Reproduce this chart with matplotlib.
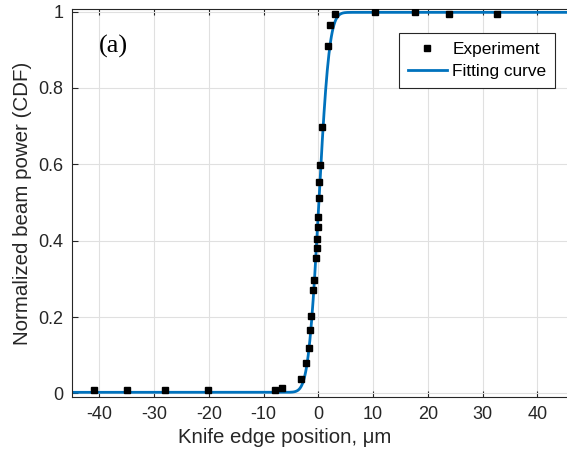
import math

import matplotlib
matplotlib.use("Agg")
import matplotlib.pyplot as plt
import numpy as np

# Experimental knife-edge data (position in um, normalized power)
exp_x = [-41.0, -35.0, -28.1, -20.1, -8.0, -6.6, -3.2, -2.25, -1.76, -1.46,
         -1.28, -0.97, -0.85, -0.43, -0.25, -0.3, -0.06, -0.12, 0.18, 0.18,
         0.36, 0.67, 1.83, 2.2, 3.1, 10.4, 17.7, 23.8, 32.6]
exp_y = [0.008, 0.008, 0.008, 0.008, 0.010, 0.015, 0.039, 0.079, 0.120, 0.165,
         0.204, 0.271, 0.297, 0.356, 0.382, 0.405, 0.436, 0.462, 0.513, 0.554,
         0.598, 0.698, 0.909, 0.965, 0.993, 0.998, 0.998, 0.993, 0.993]

# Fit parameters of the Gaussian CDF
fit_x0 = 0.1
fit_sigma = 1.5
fit_base = 0.003
fit_top = 0.998

xticks = [-40, -30, -20, -10, 0, 10, 20, 30, 40]
yticks = [0, 0.2, 0.4, 0.6, 0.8, 1.0]
ytick_labels = ["0", "0.2", "0.4", "0.6", "0.8", "1"]

plt.rcParams['font.family'] = ['Liberation Sans', 'DejaVu Sans']
plt.rcParams['axes.unicode_minus'] = False

fig = plt.figure(figsize=(5.67, 4.57), dpi=100)
ax = fig.add_axes([72 / 567, 1 - 397.3 / 457, 497 / 567, 388 / 457])

xs = np.linspace(-45, 46, 600)
fit_y = [fit_base + (fit_top - fit_base) * 0.5 * (1 + math.erf((v - fit_x0) / (fit_sigma * math.sqrt(2))))
         for v in xs]

ax.plot(exp_x, exp_y, 's', color='black', markersize=3.8, label='Experiment', zorder=3)
ax.plot(xs, fit_y, '-', color='#0072BD', linewidth=2, label='Fitting curve', zorder=2)

ax.set_xlim(-45, 45.8)
ax.set_ylim(-0.01, 1.006)
ax.set_xticks(xticks)
ax.set_yticks(yticks)
ax.set_yticklabels(ytick_labels)
ax.tick_params(direction='in', top=True, right=False, length=4, labelsize=13,
               colors='#262626', pad=6)
ax.grid(True, color='#e0e0e0', linewidth=0.8)
ax.set_axisbelow(True)
for side in ['left', 'bottom', 'top']:
    ax.spines[side].set_color('#262626')
    ax.spines[side].set_linewidth(0.8)
ax.spines['right'].set_visible(False)

ax.set_xlabel('Knife edge position, μm', fontsize=14.7, color='#262626')
ax.xaxis.set_label_coords(0.427, -0.078)
ax.set_ylabel('Normalized beam power (CDF)', fontsize=14.8, color='#262626', labelpad=5)

ax.text(0.055, 0.905, '(a)', transform=ax.transAxes, fontsize=19,
        family='Liberation Serif', color='black', va='center')

leg = ax.legend(loc='upper right', bbox_to_anchor=(0.972, 0.939), fontsize=12.4,
                fancybox=False, framealpha=1, edgecolor='#262626',
                handlelength=2.3, handletextpad=0.3, borderpad=0.5,
                labelspacing=0.45, borderaxespad=0)
leg.get_frame().set_linewidth(0.8)

fig.savefig('out.png', dpi=100)
